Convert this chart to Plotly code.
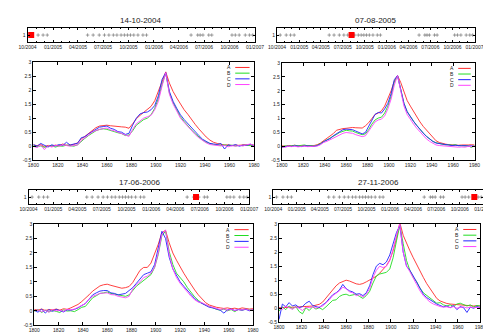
import plotly.graph_objects as go

W, H = 491, 332

# --- data ---
YEARS = list(range(1800, 1981, 3))
SERIES_NAMES = ["A", "B", "C", "D"]
SERIES_COLORS = ["#ff2a2a", "#22dd22", "#2222ff", "#ff44ff"]

PANEL_DATES = ["14-10-2004", "07-08-2005", "17-06-2006", "27-11-2006"]

p1_a = [0.05, 0.02, 0.06, -0.02, 0.03, 0.00, 0.04, 0.02, 0.08, 0.03,
        0.05, 0.06, 0.12, 0.26, 0.35, 0.45, 0.58, 0.66, 0.72, 0.74,
        0.75, 0.73, 0.71, 0.70, 0.69, 0.68, 0.64, 0.80, 0.98, 1.10,
        1.20, 1.30, 1.42, 1.62, 1.95, 2.35, 2.65, 2.25, 1.95, 1.72,
        1.50, 1.30, 1.14, 0.95, 0.78, 0.62, 0.46, 0.33, 0.22, 0.14,
        0.10, 0.06, 0.04, 0.05, 0.02, 0.04, 0.03, 0.05, 0.04, 0.03, 0.04]
p1_b = [0.03, -0.02, 0.01, -0.04, 0.00, 0.02, -0.03, 0.01, 0.00, 0.04,
        0.02, 0.00, 0.05, 0.18, 0.28, 0.38, 0.48, 0.55, 0.60, 0.62,
        0.60, 0.55, 0.52, 0.48, 0.45, 0.38, 0.40, 0.55, 0.75, 0.85,
        0.95, 1.00, 1.12, 1.35, 1.70, 2.20, 2.60, 1.90, 1.55, 1.30,
        1.05, 0.88, 0.72, 0.58, 0.45, 0.33, 0.22, 0.14, 0.10, 0.06,
        0.05, 0.03, 0.05, 0.02, 0.04, 0.01, 0.03, 0.02, 0.04, 0.02, 0.03]
p1_c = [0.06, 0.00, 0.10, 0.02, -0.03, 0.05, 0.01, 0.06, 0.03, 0.14,
        0.04, 0.08, 0.10, 0.30, 0.34, 0.44, 0.52, 0.60, 0.68, 0.70,
        0.72, 0.64, 0.60, 0.52, 0.50, 0.42, 0.46, 0.75, 1.00, 1.15,
        1.20, 1.22, 1.30, 1.45, 1.80, 2.38, 2.62, 1.95, 1.60, 1.35,
        1.12, 0.95, 0.80, 0.65, 0.52, 0.38, 0.25, 0.16, 0.10, 0.08,
        0.06, 0.10, -0.10, 0.05, 0.02, 0.06, 0.00, 0.04, 0.03, 0.07, 0.02]
p1_d = [0.00, -0.05, 0.04, -0.12, 0.02, -0.03, 0.03, 0.00, 0.05, 0.02,
        0.00, 0.03, 0.04, 0.20, 0.30, 0.40, 0.50, 0.56, 0.60, 0.63,
        0.65, 0.58, 0.55, 0.50, 0.46, 0.40, 0.35, 0.60, 0.80, 0.90,
        1.00, 1.05, 1.10, 1.30, 1.60, 2.15, 2.62, 1.85, 1.50, 1.25,
        1.00, 0.85, 0.70, 0.55, 0.42, 0.30, 0.20, 0.12, 0.06, 0.04,
        0.03, 0.01, 0.03, -0.02, 0.02, 0.00, 0.03, 0.01, 0.05, 0.08, 0.02]

p2_a = [0.02, 0.00, 0.03, 0.02, 0.04, 0.01, 0.03, 0.02, 0.03, 0.02,
        0.03, 0.06, 0.12, 0.20, 0.27, 0.35, 0.46, 0.58, 0.62, 0.64,
        0.65, 0.67, 0.68, 0.67, 0.66, 0.66, 0.74, 0.85, 1.00, 1.15,
        1.20, 1.28, 1.45, 1.70, 2.00, 2.35, 2.55, 2.30, 1.95, 1.65,
        1.45, 1.25, 1.05, 0.88, 0.72, 0.58, 0.44, 0.30, 0.20, 0.14,
        0.10, 0.08, 0.06, 0.05, 0.06, 0.04, 0.05, 0.04, 0.05, 0.06, 0.05]
p2_b = [-0.02, 0.02, 0.00, 0.03, 0.04, 0.02, 0.03, 0.05, 0.02, 0.03,
        0.01, 0.04, 0.10, 0.16, 0.22, 0.28, 0.36, 0.43, 0.50, 0.55,
        0.58, 0.56, 0.55, 0.50, 0.46, 0.42, 0.45, 0.60, 0.80, 0.95,
        1.02, 1.05, 1.20, 1.45, 1.80, 2.30, 2.55, 2.00, 1.55, 1.25,
        1.05, 0.90, 0.75, 0.60, 0.48, 0.36, 0.26, 0.18, 0.13, 0.10,
        0.07, 0.05, 0.06, 0.04, 0.06, 0.02, 0.03, 0.01, 0.02, -0.04, 0.03]
p2_c = [-0.03, 0.00, 0.01, 0.00, 0.02, 0.01, -0.01, 0.02, 0.01, 0.00,
        0.00, 0.03, 0.08, 0.17, 0.22, 0.28, 0.38, 0.46, 0.55, 0.60,
        0.62, 0.61, 0.60, 0.55, 0.50, 0.45, 0.50, 0.70, 0.95, 1.15,
        1.22, 1.20, 1.35, 1.55, 1.90, 2.40, 2.55, 2.00, 1.55, 1.25,
        1.05, 0.90, 0.75, 0.60, 0.48, 0.36, 0.26, 0.18, 0.12, 0.10,
        0.08, 0.06, 0.05, 0.03, 0.04, 0.02, 0.02, 0.03, 0.01, 0.02, 0.00]
p2_d = [-0.02, -0.03, 0.00, -0.01, 0.01, -0.02, 0.00, 0.01, -0.01, 0.00,
        -0.01, 0.01, 0.06, 0.14, 0.18, 0.24, 0.30, 0.36, 0.42, 0.47,
        0.50, 0.49, 0.47, 0.42, 0.38, 0.35, 0.38, 0.55, 0.72, 0.88,
        0.95, 0.98, 1.10, 1.35, 1.70, 2.20, 2.55, 1.95, 1.45, 1.15,
        0.95, 0.80, 0.65, 0.52, 0.38, 0.27, 0.18, 0.10, 0.05, 0.03,
        0.02, 0.00, 0.01, -0.01, -0.02, -0.03, -0.02, -0.03, 0.00, -0.01, 0.01]

p3_a = [0.05, 0.02, 0.06, 0.01, 0.04, 0.03, 0.06, 0.02, 0.07, 0.05,
        0.10, 0.15, 0.22, 0.32, 0.42, 0.55, 0.68, 0.78, 0.86, 0.90,
        0.92, 0.88, 0.84, 0.80, 0.78, 0.80, 0.84, 0.98, 1.18, 1.40,
        1.50, 1.50, 1.65, 1.95, 2.30, 2.70, 2.78, 2.35, 2.00, 1.75,
        1.50, 1.30, 1.10, 0.90, 0.72, 0.55, 0.40, 0.28, 0.20, 0.15,
        0.12, 0.10, 0.08, 0.10, 0.07, 0.09, 0.06, 0.10, 0.08, 0.06, 0.07]
p3_b = [-0.02, 0.04, -0.06, 0.02, -0.04, 0.01, -0.02, -0.06, 0.03, -0.01,
        0.00, -0.03, 0.04, 0.12, 0.15, 0.30, 0.45, 0.52, 0.60, 0.62,
        0.65, 0.60, 0.58, 0.55, 0.54, 0.50, 0.55, 0.70, 0.85, 0.95,
        1.05, 1.15, 1.25, 1.50, 1.95, 2.60, 2.75, 2.05, 1.60, 1.30,
        1.15, 1.00, 0.80, 0.62, 0.48, 0.36, 0.26, 0.20, 0.14, 0.10,
        0.05, 0.02, 0.06, 0.00, 0.04, -0.03, 0.05, 0.02, 0.06, 0.03, 0.04]
p3_c = [0.02, -0.05, 0.06, -0.08, 0.04, -0.02, 0.05, 0.00, -0.04, 0.03,
        0.02, 0.05, 0.10, 0.18, 0.25, 0.40, 0.55, 0.62, 0.68, 0.70,
        0.70, 0.62, 0.60, 0.55, 0.58, 0.60, 0.70, 0.80, 0.95, 1.10,
        1.25, 1.30, 1.35, 1.60, 2.20, 2.75, 2.50, 1.85, 1.45, 1.20,
        1.00, 0.85, 0.70, 0.55, 0.42, 0.32, 0.25, 0.18, 0.12, 0.10,
        0.05, 0.02, -0.08, 0.03, 0.06, 0.01, 0.04, 0.02, 0.05, 0.00, 0.03]
p3_d = [0.00, 0.03, -0.03, 0.02, -0.05, 0.04, 0.00, 0.02, -0.02, 0.05,
        0.03, 0.06, 0.12, 0.20, 0.25, 0.40, 0.50, 0.55, 0.60, 0.61,
        0.62, 0.56, 0.55, 0.50, 0.48, 0.45, 0.50, 0.75, 0.90, 1.00,
        1.15, 1.20, 1.30, 1.50, 2.00, 2.65, 2.80, 1.95, 1.45, 1.15,
        0.95, 0.80, 0.62, 0.50, 0.38, 0.30, 0.28, 0.22, 0.15, 0.12,
        0.08, 0.04, 0.07, 0.02, 0.05, 0.01, 0.04, 0.03, 0.06, 0.02, 0.04]

p4_a = [0.02, 0.02, 0.03, 0.03, 0.04, 0.04, 0.05, 0.05, 0.06, 0.07,
        0.08, 0.10, 0.14, 0.22, 0.36, 0.50, 0.68, 0.80, 0.90, 0.96,
        1.00, 0.97, 0.92, 0.87, 0.85, 0.88, 0.94, 1.00, 1.06, 1.14,
        1.25, 1.38, 1.52, 1.72, 2.05, 2.50, 3.05, 2.60, 2.30, 2.05,
        1.80, 1.55, 1.32, 1.10, 0.88, 0.70, 0.50, 0.35, 0.26, 0.20,
        0.17, 0.15, 0.14, 0.12, 0.12, 0.10, 0.10, 0.09, 0.08, 0.09, 0.08]
p4_b = [-0.10, 0.05, -0.05, 0.08, -0.02, 0.06, -0.12, -0.20, 0.02, -0.08,
        0.05, -0.03, 0.02, -0.05, 0.05, 0.18, 0.28, 0.30, 0.42, 0.48,
        0.50, 0.45, 0.48, 0.50, 0.42, 0.35, 0.45, 0.60, 0.90, 1.15,
        1.22, 1.25, 1.28, 1.40, 1.80, 2.40, 2.95, 2.30, 1.70, 1.35,
        1.10, 0.95, 0.72, 0.55, 0.45, 0.35, 0.25, 0.18, 0.20, 0.12,
        0.08, 0.12, 0.06, 0.15, 0.18, 0.14, 0.08, 0.12, 0.05, 0.10, 0.08]
p4_c = [-0.40, 0.15, 0.05, 0.20, 0.08, 0.12, 0.02, 0.06, 0.18, 0.25,
        0.10, 0.05, 0.02, 0.12, 0.20, 0.35, 0.48, 0.55, 0.65, 0.85,
        0.70, 0.62, 0.58, 0.50, 0.52, 0.45, 0.55, 0.80, 1.20, 1.50,
        1.60, 1.55, 1.65, 1.90, 2.30, 2.70, 2.95, 2.00, 1.50, 1.35,
        1.15, 0.95, 0.70, 0.50, 0.38, 0.30, 0.22, 0.15, 0.10, 0.05,
        0.08, 0.02, 0.10, -0.05, 0.06, 0.02, -0.15, 0.04, 0.00, 0.06, 0.02]
p4_d = [0.00, -0.05, 0.08, 0.02, -0.04, 0.05, 0.00, -0.08, 0.04, 0.02,
        0.05, 0.00, 0.06, 0.08, 0.18, 0.30, 0.45, 0.52, 0.62, 0.75,
        0.70, 0.58, 0.55, 0.45, 0.48, 0.40, 0.50, 0.70, 1.10, 1.35,
        1.50, 1.45, 1.50, 1.70, 2.10, 2.60, 3.00, 2.00, 1.50, 1.30,
        1.05, 0.85, 0.62, 0.45, 0.33, 0.22, 0.15, 0.10, 0.06, 0.04,
        0.05, 0.02, 0.06, 0.00, 0.03, 0.05, 0.01, 0.04, 0.02, 0.03, 0.01]

PANEL_SERIES = [
    [p1_a, p1_b, p1_c, p1_d],
    [p2_a, p2_b, p2_c, p2_d],
    [p3_a, p3_b, p3_c, p3_d],
    [p4_a, p4_b, p4_c, p4_d],
]

# dates of the available snapshots (timeline strip)
EVENT_DATES = [
    "2004-10-14", "2004-11-08", "2004-11-26", "2004-12-11",
    "2005-05-06", "2005-05-26", "2005-06-17", "2005-07-06", "2005-07-22",
    "2005-08-07", "2005-08-20", "2005-09-04", "2005-09-16", "2005-09-27",
    "2005-10-08", "2005-10-20", "2005-11-04", "2005-11-22", "2005-12-05",
    "2006-05-15", "2006-06-08", "2006-06-17", "2006-06-27", "2006-07-18",
    "2006-07-29", "2006-10-10", "2006-10-22", "2006-11-05", "2006-11-27",
    "2006-12-12", "2006-12-24",
]

X_TICKS = [1800, 1820, 1840, 1860, 1880, 1900, 1920, 1940, 1960, 1980]
Y_TICKS = [-0.5, 0, 0.5, 1, 1.5, 2, 2.5, 3]
Y_TICK_LABELS = ["-0.5", "0", "0.5", "1", "1.5", "2", "2.5", "3"]
T_TICKS = ["2004-10-01", "2005-01-01", "2005-04-01", "2005-07-01", "2005-10-01",
           "2006-01-01", "2006-04-01", "2006-07-01", "2006-10-01", "2007-01-01"]
T_TICK_LABELS = ["10/2004", "01/2005", "04/2005", "07/2005", "10/2005",
                 "01/2006", "04/2006", "07/2006", "10/2006", "01/2007"]

# pixel boxes: main plot, timeline strip, title centre
PANELS = [
    dict(main=(17, 52, 246, 152), time=(11, 17, 247, 32), title=(128, 10)),
    dict(main=(275, 53, 475, 152), time=(270, 17, 475, 32), title=(372, 10)),
    dict(main=(18, 217, 245, 320), time=(12, 182, 241, 197), title=(127, 175)),
    dict(main=(272, 217, 481, 317), time=(266, 182, 484, 197), title=(375, 175)),
]

FONT = "Liberation Sans"


def dom(box):
    x0, y0, x1, y1 = box
    return [x0 / W, x1 / W], [1 - y1 / H, 1 - y0 / H]


def ax_key(kind, n):
    return kind + "axis" if n == 1 else f"{kind}axis{n}"


def ax_ref(kind, n):
    return kind if n == 1 else f"{kind}{n}"


base_axis = dict(
    showline=True, linecolor="black", linewidth=1, mirror="ticks",
    ticks="inside", tickcolor="black", showgrid=False, zeroline=False,
    tickfont=dict(family=FONT, size=5, color="#222"), fixedrange=True,
)

fig = go.Figure()
layout = {}
annotations = []
shapes = []

for k, panel in enumerate(PANELS):
    nm, nt = 2 * k + 1, 2 * k + 2
    xd, yd = dom(panel["main"])
    txd, tyd = dom(panel["time"])

    for name, color, vals in zip(SERIES_NAMES, SERIES_COLORS, PANEL_SERIES[k]):
        fig.add_trace(go.Scatter(
            x=YEARS, y=vals, mode="lines", name=name,
            line=dict(color=color, width=0.9),
            xaxis=ax_ref("x", nm), yaxis=ax_ref("y", nm), showlegend=False,
        ))

    fig.add_trace(go.Scatter(
        x=EVENT_DATES, y=[1] * len(EVENT_DATES), mode="markers",
        marker=dict(symbol="cross-thin", size=2.5, line=dict(color="#666", width=0.6)),
        xaxis=ax_ref("x", nt), yaxis=ax_ref("y", nt), showlegend=False,
    ))
    d, m, y = PANEL_DATES[k].split("-")
    fig.add_trace(go.Scatter(
        x=[f"{y}-{m}-{d}"], y=[1], mode="markers",
        marker=dict(symbol="square", size=6, color="#ff0000"),
        xaxis=ax_ref("x", nt), yaxis=ax_ref("y", nt), showlegend=False,
    ))

    layout[ax_key("x", nm)] = dict(
        base_axis, domain=xd, range=[1800, 1980], tickvals=X_TICKS,
        ticklen=3, anchor=ax_ref("y", nm),
    )
    layout[ax_key("y", nm)] = dict(
        base_axis, domain=yd, range=[-0.5, 3], tickvals=Y_TICKS,
        ticktext=Y_TICK_LABELS, ticklen=3, anchor=ax_ref("x", nm),
    )
    layout[ax_key("x", nt)] = dict(
        base_axis, domain=txd, type="date", range=["2004-10-01", "2007-01-01"],
        tickvals=T_TICKS, ticktext=T_TICK_LABELS, ticklen=2.5,
        minor=dict(ticks="inside", ticklen=1.2, dtick="M1", tick0="2004-10-01",
                   tickcolor="black", showgrid=False),
        anchor=ax_ref("y", nt),
    )
    layout[ax_key("y", nt)] = dict(
        base_axis, domain=tyd, range=[0.5, 1.5], tickvals=[1], ticktext=["1"],
        ticklen=2, anchor=ax_ref("x", nt),
    )

    # title
    tx, ty = panel["title"]
    annotations.append(dict(
        x=tx / W, y=1 - ty / H, xref="paper", yref="paper", text=PANEL_DATES[k],
        showarrow=False, xanchor="center", yanchor="middle",
        font=dict(family=FONT, size=8, color="#222"),
    ))

    # gnuplot-style key: label, then a line sample
    xdr, ydr = f"{ax_ref('x', nm)} domain", f"{ax_ref('y', nm)} domain"
    for i, (name, color) in enumerate(zip(SERIES_NAMES, SERIES_COLORS)):
        ky = 0.945 - i * 0.058
        annotations.append(dict(
            x=0.905, y=ky, xref=xdr, yref=ydr, text=name, showarrow=False,
            xanchor="right", yanchor="middle",
            font=dict(family=FONT, size=5, color="#222"),
        ))
        shapes.append(dict(
            type="line", xref=xdr, yref=ydr, x0=0.915, x1=0.98, y0=ky, y1=ky,
            line=dict(color=color, width=1),
        ))

# light slide border on the right
shapes.append(dict(type="line", xref="paper", yref="paper", x0=488 / W, x1=488 / W,
                   y0=0, y1=1, line=dict(color="#a9cdea", width=2)))

fig.update_layout(
    layout,
    width=W, height=H, autosize=False,
    margin=dict(l=0, r=0, t=0, b=0),
    paper_bgcolor="white", plot_bgcolor="white",
    showlegend=False, annotations=annotations, shapes=shapes,
    hovermode=False,
)

fig.write_html("out.html", config={"displayModeBar": False})
